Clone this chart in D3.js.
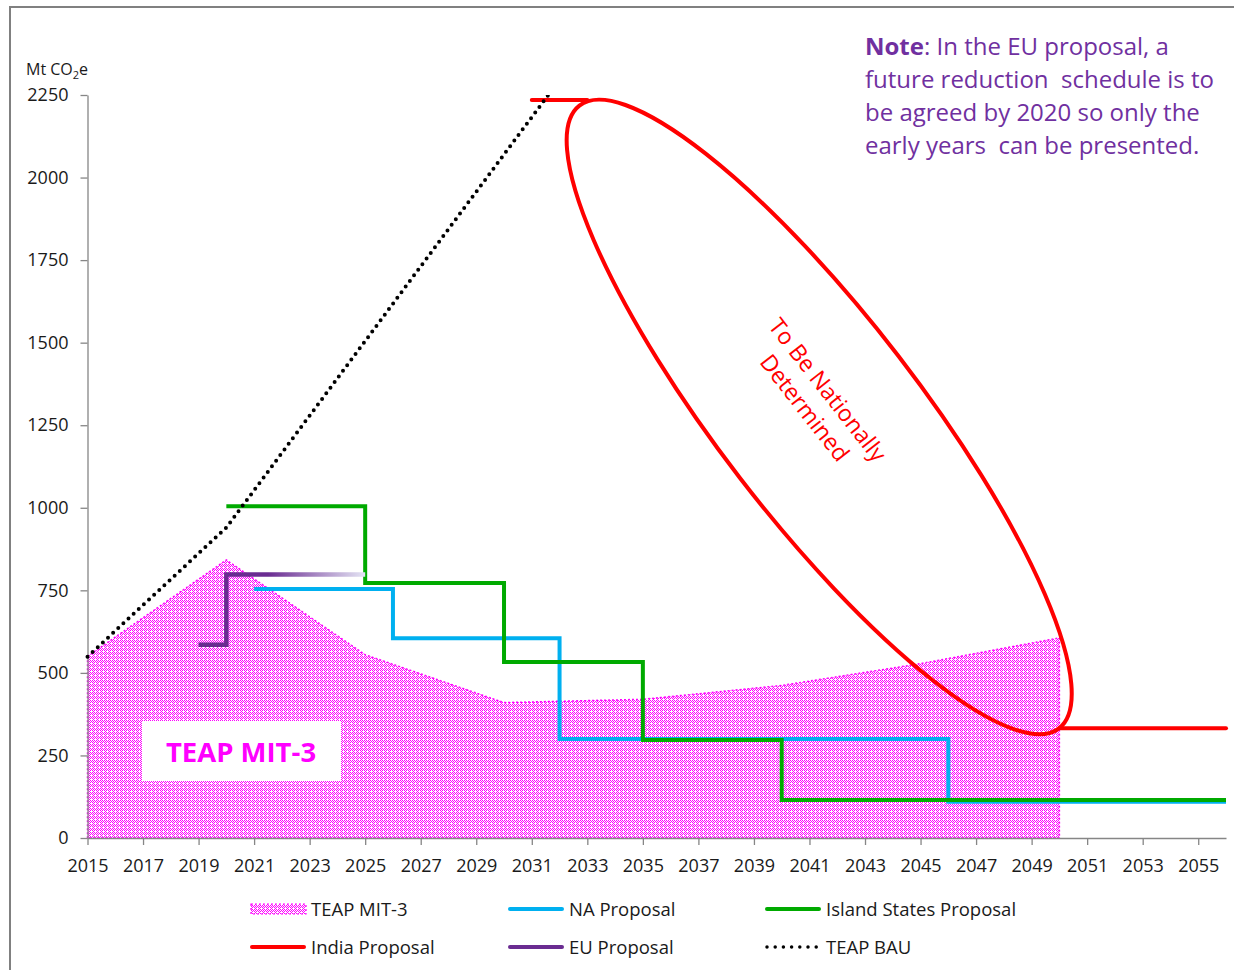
<!DOCTYPE html>
<html>
<head>
<meta charset="utf-8">
<script src="https://cdn.jsdelivr.net/npm/d3@7"></script>
<style>
  body { margin: 0; background: #fff; }
  svg { display: block; font-family: "Open Sans", sans-serif; }
</style>
</head>
<body>
<div id="chart"></div>
<script>
// chart values
var xTickYears = [2015,2017,2019,2021,2023,2025,2027,2029,2031,2033,2035,2037,2039,2041,2043,2045,2047,2049,2051,2053,2055];
var yTickValues = [0,250,500,750,1000,1250,1500,1750,2000,2250];

var mitYears = [2015,2020,2025,2030,2035,2040,2045,2050];
var mitValues = [550,842,555,410,420,462,528,606];

var bauYears = [2015,2020,2025,2030,2035];
var bauValues = [549,940,1505,2070,2635];

var naYears = [2021,2026,2032,2046,2056];
var naValues = [754,605,300,110,110];

var islandYears = [2020,2025,2030,2035,2040,2056];
var islandValues = [1005,772,533,297,115,115];

var euYears = [2019,2020,2025];
var euValues = [585,798,798];

var indiaEarlyYears = [2031,2033];
var indiaEarlyValues = [2235,2235];
var indiaLateYears = [2050,2056];
var indiaLateValues = [332,332];

// chart size
var svg_width = 1234;
var svg_height = 970;

var svg = d3.select("#chart").append("svg")
  .attr("width", svg_width)
  .attr("height", svg_height);

var x = d3.scaleLinear().domain([2015, 2056]).range([87.5, 1226]);
var y = d3.scaleLinear().domain([0, 2250]).range([838, 95]);

function zip(xs, ys) {
  return xs.map(function(d, i) { return [d, ys[i]]; });
}

var defs = svg.append("defs");

// stipple fill for TEAP MIT-3
var pat = defs.append("pattern")
  .attr("id", "stipple")
  .attr("patternUnits", "userSpaceOnUse")
  .attr("width", 4).attr("height", 4);
pat.append("rect").attr("width", 4).attr("height", 4).attr("fill", "#ffffff");
[[0,0],[2,0],[1,1],[3,1],[0,2],[2,2],[1,3]].forEach(function(p) {
  pat.append("rect")
    .attr("x", p[0]).attr("y", p[1])
    .attr("width", 1).attr("height", 1)
    .attr("shape-rendering", "crispEdges")
    .attr("fill", "#ff00ff");
});

// EU gradient, fades out towards 2025
var euGrad = defs.append("linearGradient")
  .attr("id", "euGrad")
  .attr("gradientUnits", "userSpaceOnUse")
  .attr("x1", x(2020)).attr("x2", x(2025))
  .attr("y1", 0).attr("y2", 0);
euGrad.append("stop").attr("offset", "0").attr("stop-color", "#6a2c91");
euGrad.append("stop").attr("offset", "0.3").attr("stop-color", "#6a2c91");
euGrad.append("stop").attr("offset", "1").attr("stop-color", "#e4e4f4");

var legGrad = defs.append("linearGradient")
  .attr("id", "legGrad")
  .attr("gradientUnits", "userSpaceOnUse")
  .attr("x1", 508).attr("x2", 563)
  .attr("y1", 0).attr("y2", 0);
legGrad.append("stop").attr("offset", "0").attr("stop-color", "#6a2c91");
legGrad.append("stop").attr("offset", "0.35").attr("stop-color", "#6a2c91");
legGrad.append("stop").attr("offset", "1").attr("stop-color", "#e4e4f4");

defs.append("clipPath").attr("id", "plotClip")
  .append("rect")
  .attr("x", x(2015) - 5).attr("y", y(2250))
  .attr("width", x(2056) - x(2015) + 10)
  .attr("height", y(0) - y(2250) + 5);

// slide frame
svg.append("path")
  .attr("d", "M10,970 L10,7 L1234,7")
  .attr("fill", "none")
  .attr("stroke", "#808080")
  .attr("stroke-width", 2);

// area
var mitData = zip(mitYears, mitValues);
svg.append("path")
  .datum(mitData)
  .attr("d", d3.area().x(function(d) { return x(d[0]); }).y0(y(0)).y1(function(d) { return y(d[1]); }))
  .attr("fill", "url(#stipple)")
  .attr("stroke", "#ff00ff")
  .attr("stroke-width", 1.5)
  .attr("stroke-dasharray", "2,2");

// axes
var yAxis = svg.append("g")
  .attr("transform", "translate(" + x(2015) + ",0)")
  .call(d3.axisLeft(y).tickValues(yTickValues).tickFormat(d3.format("d")).tickSize(7).tickSizeOuter(0).tickPadding(12));
var xAxis = svg.append("g")
  .attr("transform", "translate(0," + y(0) + ")")
  .call(d3.axisBottom(x).tickValues(xTickYears).tickFormat(d3.format("d")).tickSize(7).tickSizeOuter(0).tickPadding(14));

[yAxis, xAxis].forEach(function(a) {
  a.select(".domain").attr("stroke", "#868686").attr("stroke-width", 1.3);
  a.selectAll(".tick line").attr("stroke", "#868686").attr("stroke-width", 1.3);
  a.selectAll(".tick text")
    .attr("fill", "#1a1a1a")
    .attr("font-size", "18px")
    .attr("font-family", "Open Sans, sans-serif");
});

// y axis unit
var unit = svg.append("text")
  .attr("x", 26).attr("y", 75)
  .attr("font-size", "16px")
  .attr("fill", "#1a1a1a");
unit.append("tspan").text("Mt CO");
unit.append("tspan").attr("font-size", "11px").attr("dy", 4).text("2");
unit.append("tspan").attr("dy", -4).text("e");

// label box inside the area
svg.append("rect")
  .attr("x", 142).attr("y", 721)
  .attr("width", 199).attr("height", 60)
  .attr("fill", "#fff");
svg.append("text")
  .attr("x", 241).attr("y", 762)
  .attr("text-anchor", "middle")
  .attr("font-size", "27.5px")
  .attr("font-weight", "bold")
  .attr("fill", "#ff00ff")
  .text("TEAP MIT-3");

var line = d3.line().x(function(d) { return x(d[0]); }).y(function(d) { return y(d[1]); });
var stepLine = d3.line().curve(d3.curveStepAfter).x(function(d) { return x(d[0]); }).y(function(d) { return y(d[1]); });

// NA proposal
svg.append("path")
  .datum(zip(naYears, naValues))
  .attr("d", stepLine)
  .attr("fill", "none")
  .attr("stroke", "#00b0f0")
  .attr("stroke-width", 4);

// Island states
svg.append("path")
  .datum(zip(islandYears, islandValues))
  .attr("d", stepLine)
  .attr("fill", "none")
  .attr("stroke", "#00aa00")
  .attr("stroke-width", 4);

// EU proposal
svg.append("path")
  .datum(zip(euYears, euValues))
  .attr("d", stepLine)
  .attr("fill", "none")
  .attr("stroke", "url(#euGrad)")
  .attr("stroke-width", 4.5);

// India proposal
[zip(indiaEarlyYears, indiaEarlyValues), zip(indiaLateYears, indiaLateValues)].forEach(function(seg) {
  svg.append("path")
    .datum(seg)
    .attr("d", line)
    .attr("fill", "none")
    .attr("stroke", "#ff0000")
    .attr("stroke-width", 4)
    .attr("stroke-linecap", "round");
});

// BAU dotted line
svg.append("path")
  .datum(zip(bauYears, bauValues))
  .attr("d", line)
  .attr("clip-path", "url(#plotClip)")
  .attr("fill", "none")
  .attr("stroke", "#000")
  .attr("stroke-width", 4)
  .attr("stroke-linecap", "round")
  .attr("stroke-dasharray", "0,7");

// ellipse annotation
var ecx = x(2041.35), ecy = y(1275);
svg.append("ellipse")
  .attr("cx", 0).attr("cy", 0)
  .attr("rx", 393).attr("ry", 100)
  .attr("transform", "translate(" + ecx + "," + ecy + ") rotate(52.4)")
  .attr("fill", "none")
  .attr("stroke", "#ff0000")
  .attr("stroke-width", 4);

var tbd = svg.append("text")
  .attr("transform", "translate(" + (ecx + 2) + "," + (ecy - 22) + ") rotate(52)")
  .attr("text-anchor", "middle")
  .attr("font-size", "23px")
  .attr("fill", "#ff0000");
tbd.append("tspan").attr("x", 0).attr("dy", 0).text("To Be Nationally");
tbd.append("tspan").attr("x", 0).attr("dy", 29).text("Determined");

// note
var note = svg.append("text")
  .attr("x", 865).attr("y", 55)
  .attr("font-size", "24px")
  .attr("fill", "#7030a0");
var noteLines = ["future reduction  schedule is to", "be agreed by 2020 so only the", "early years  can be presented."];
var t0 = note.append("tspan").attr("x", 865).attr("dy", 0);
t0.append("tspan").attr("font-weight", "bold").text("Note");
t0.append("tspan").text(": In the EU proposal, a");
noteLines.forEach(function(s) {
  note.append("tspan").attr("x", 865).attr("dy", 33).attr("xml:space", "preserve").text(s);
});

// legend
var legendItems = [
  {name: "TEAP MIT-3", kind: "area", lx: 250, ly: 909},
  {name: "NA Proposal", kind: "line", color: "#00b0f0", lx: 508, ly: 909},
  {name: "Island States Proposal", kind: "line", color: "#00aa00", lx: 765, ly: 909},
  {name: "India Proposal", kind: "line", color: "#ff0000", lx: 250, ly: 947},
  {name: "EU Proposal", kind: "line", color: "url(#legGrad)", lx: 508, ly: 947},
  {name: "TEAP BAU", kind: "dots", lx: 765, ly: 947}
];

var leg = svg.selectAll("g.legend")
  .data(legendItems)
  .enter()
  .append("g")
  .attr("class", "legend")
  .attr("transform", function(d) { return "translate(" + d.lx + "," + d.ly + ")"; });

leg.each(function(d) {
  var g = d3.select(this);
  if (d.kind == "area") {
    g.append("rect")
      .attr("x", 1).attr("y", -5)
      .attr("width", 55).attr("height", 10)
      .attr("fill", "url(#stipple)")
      .attr("stroke", "#ff00ff")
      .attr("stroke-width", 1.2)
      .attr("stroke-dasharray", "2,2");
  } else if (d.kind == "line") {
    g.append("line")
      .attr("x1", 2).attr("x2", 54)
      .attr("y1", 0).attr("y2", 0)
      .attr("stroke", d.color)
      .attr("stroke-width", 4)
      .attr("stroke-linecap", "round");
  } else {
    g.append("line")
      .attr("x1", 2).attr("x2", 52)
      .attr("y1", 0).attr("y2", 0)
      .attr("stroke", "#000")
      .attr("stroke-width", 3.5)
      .attr("stroke-linecap", "round")
      .attr("stroke-dasharray", "0,8.2");
  }
  g.append("text")
    .attr("x", 61).attr("y", 6.5)
    .attr("font-size", "18.5px")
    .attr("fill", "#1a1a1a")
    .text(d.name);
});
</script>
</body>
</html>
